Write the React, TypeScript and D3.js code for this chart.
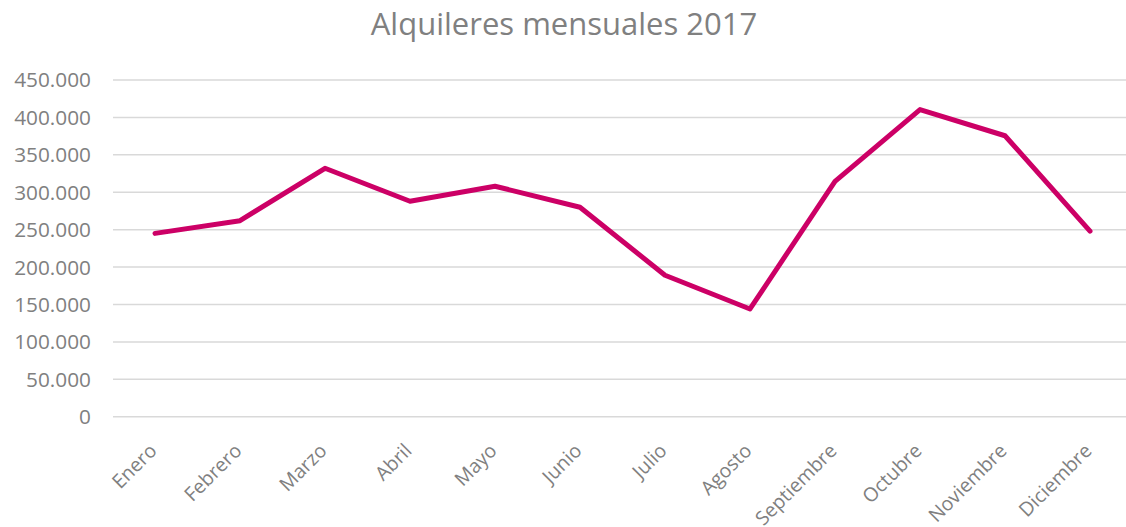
import React from "react";
import * as d3 from "d3";

const categories = ["Enero", "Febrero", "Marzo", "Abril", "Mayo", "Junio", "Julio", "Agosto", "Septiembre", "Octubre", "Noviembre", "Diciembre"];
const values = [245000, 262000, 332000, 288000, 308000, 280000, 189000, 144000, 314500, 410500, 375500, 248000];
const yTicks = [0, 50000, 100000, 150000, 200000, 250000, 300000, 350000, 400000, 450000];
const title = "Alquileres mensuales 2017";

const W = 1126;
const H = 527;
const FONT = "'Open Sans', sans-serif";

export default function App() {
  const x = d3.scalePoint<string>().domain(categories).range([155, 1090]);
  const y = d3.scaleLinear().domain([0, 450000]).range([416.7, 80]);
  const fmt = (v: number) => d3.format(",")(v).replace(/,/g, ".");
  const line = d3
    .line<number>()
    .x((_, i) => x(categories[i]) as number)
    .y((d) => y(d));

  return (
    <svg width={W} height={H} style={{ position: "absolute", left: 0, top: 0, background: "#fff" }}>
      <text x={564} y={35} textAnchor="middle" fontFamily={FONT} fontSize={31} fill="#808080">
        {title}
      </text>
      {yTicks.map((t) => (
        <g key={t}>
          <line x1={113} x2={1133} y1={y(t)} y2={y(t)} stroke="#d9d9d9" strokeWidth={1.5} />
          <text x={91} y={y(t)} dy="0.36em" textAnchor="end" fontFamily={FONT} fontSize={20.8} fill="#808080">
            {fmt(t)}
          </text>
        </g>
      ))}
      {categories.map((c) => (
        <text
          key={c}
          transform={`translate(${(x(c) as number) + 3},${452}) rotate(-45)`}
          textAnchor="end"
          fontFamily={FONT}
          fontSize={19.5}
          fill="#808080"
        >
          {c}
        </text>
      ))}
      <path d={line(values) || ""} fill="none" stroke="#cc0066" strokeWidth={5} strokeLinejoin="round" strokeLinecap="round" />
    </svg>
  );
}
